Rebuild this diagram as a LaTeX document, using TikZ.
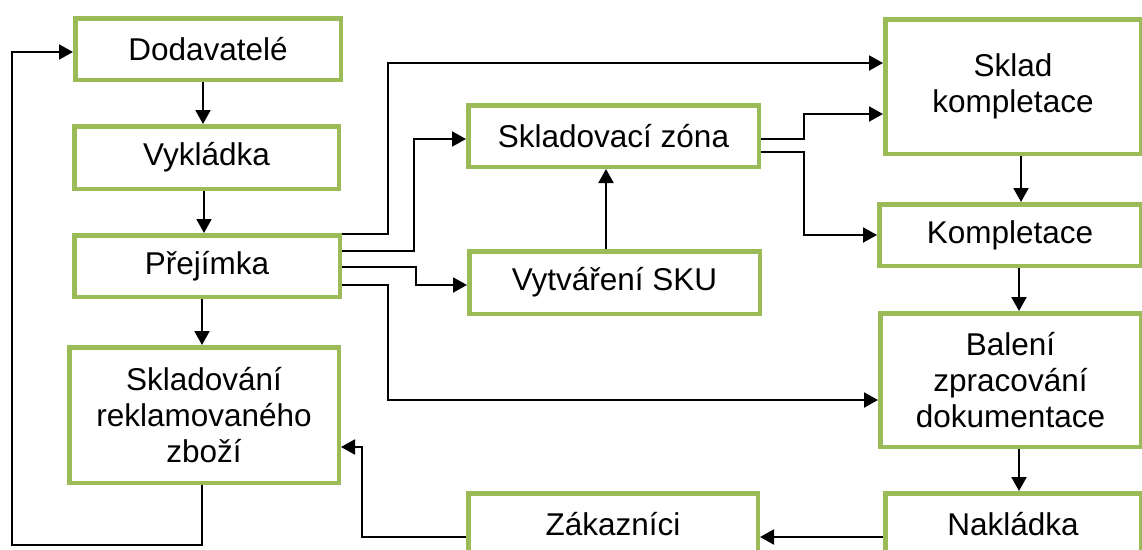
\documentclass[tikz,border=0pt]{standalone}
\usepackage{fontspec}
\setmainfont{Liberation Sans}
\usetikzlibrary{arrows.meta}
\definecolor{boxgreen}{HTML}{9BBB59}
\tikzset{
  box/.style={draw=boxgreen, line width=4.5pt, fill=white, inner sep=0pt,
    align=center, font=\fontsize{31.5}{36}\selectfont, text=black},
  arr/.style={draw=black, line width=2pt, -{Triangle[length=14pt,width=15pt]}},
  ln/.style={draw=black, line width=2pt}
}
\begin{document}
\begin{tikzpicture}[x=1pt,y=-1pt]
\useasboundingbox (0,0) rectangle (1142,549);
\clip (0,0) rectangle (1142,549);
\fill[white] (0,0) rectangle (1142,549);
% left column
\node[box, minimum width=265.5pt, minimum height=61.5pt] (dod) at (208,49) {Dodavatelé};
\node[box, minimum width=264.5pt, minimum height=62.5pt] (vyk) at (206.5,157.5) {Vykládka};
\node[box, minimum width=265.5pt, minimum height=61.5pt] (pre) at (207,266) {Přejímka};
\node[box, minimum width=269.5pt, minimum height=135.5pt] (skr) at (204,415) {Skladování\\reklamovaného\\zboží};
% middle column
\node[box, minimum width=290.5pt, minimum height=61.5pt] (szo) at (613.5,136) {Skladovací zóna};
\node[box, minimum width=290.5pt, minimum height=62.5pt] (sku) at (614.5,282.5) {Vytváření SKU};
\node[box, minimum width=289.5pt, minimum height=61.5pt] (zak) at (613,524) {Zákazníci};
% right column
\node[box, minimum width=255.5pt, minimum height=134.5pt] (skk) at (1013,86.5) {Sklad\\kompletace};
\node[box, minimum width=261.5pt, minimum height=61.5pt] (kom) at (1010,235) {Kompletace};
\node[box, minimum width=260.5pt, minimum height=133.5pt] (bal) at (1010.5,380) {Balení\\zpracování\\dokumentace};
\node[box, minimum width=255.5pt, minimum height=61.5pt] (nak) at (1013,524) {Nakládka};
% vertical flow left
\draw[arr] (dod.south -| 203,0) -- (vyk.north -| 203,0);
\draw[arr] (vyk.south -| 204,0) -- (pre.north -| 204,0);
\draw[arr] (pre.south -| 202,0) -- (skr.north -| 202,0);
% from Prejimka
\draw[arr] (pre.east |- 0,234) -- (388,234) -- (388,63) -- (skk.west |- 0,63);
\draw[arr] (pre.east |- 0,251) -- (414,251) -- (414,139) -- (szo.west |- 0,139);
\draw[arr] (pre.east |- 0,267) -- (416,267) -- (416,285) -- (sku.west |- 0,285);
\draw[arr] (pre.east |- 0,285) -- (388,285) -- (388,400) -- (bal.west |- 0,400);
% middle
\draw[arr] (sku.north -| 606,0) -- (szo.south -| 606,0);
\draw[arr] (szo.east |- 0,139) -- (804,139) -- (804,114) -- (skk.west |- 0,114);
\draw[arr] (szo.east |- 0,152) -- (804,152) -- (804,235) -- (kom.west |- 0,235);
% right column
\draw[arr] (skk.south -| 1021,0) -- (kom.north -| 1021,0);
\draw[arr] (kom.south -| 1019,0) -- (bal.north -| 1019,0);
\draw[arr] (bal.south -| 1019,0) -- (nak.north -| 1019,0);
% bottom
\draw[arr] (nak.west |- 0,537) -- (zak.east |- 0,537);
\draw[arr] (zak.west |- 0,537) -- (362,537) -- (362,447) -- (skr.east |- 0,447);
\draw[arr] (skr.south -| 202,0) -- (202,545) -- (12,545) -- (12,52) -- (dod.west |- 0,52);
\end{tikzpicture}
\end{document}
